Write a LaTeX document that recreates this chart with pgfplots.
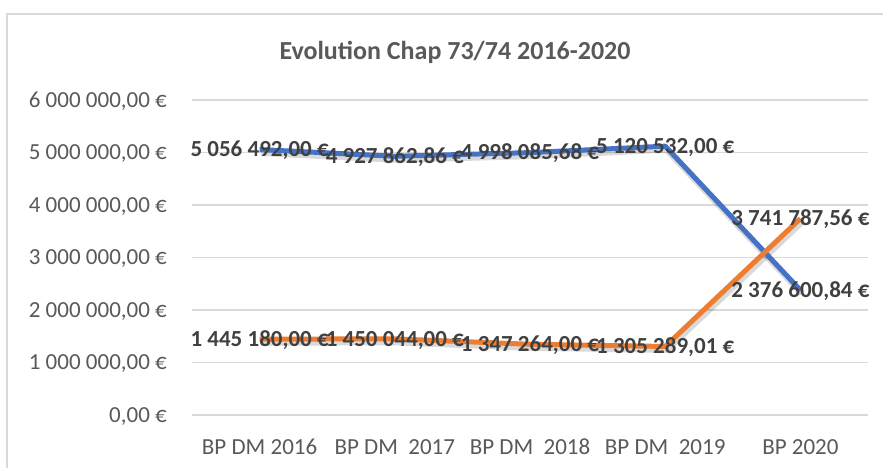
\documentclass[border=0pt]{standalone}
\usepackage{pgfplots}
\pgfplotsset{compat=1.18}
\usepackage{fontspec}
\setmainfont{Carlito}
\definecolor{cblue}{HTML}{4472C4}
\definecolor{corange}{HTML}{ED7D31}
\definecolor{cgrid}{HTML}{D9D9D9}
\definecolor{ctext}{HTML}{595959}
\definecolor{clabel}{HTML}{404040}
\begin{document}
\begin{tikzpicture}[x=1pt,y=1pt]
\path[use as bounding box] (0,0) rectangle (883,468);
\draw[color=cgrid, line width=1.2pt] (7,-5) -- (7,454) -- (890,454);
\node[font=\fontsize{26}{30}\selectfont\bfseries, text=ctext, anchor=base, inner sep=0pt] at (455,408) {Evolution Chap 73/74 2016-2020};
\begin{axis}[
  at={(192pt,53pt)}, anchor=south west,
  scale only axis, width=676pt, height=315pt,
  xmin=-0.5, xmax=4.5, ymin=0, ymax=6000000,
  clip=false,
  axis line style={draw=none},
  tick style={draw=none},
  major tick length=0pt,
  ymajorgrids, grid style={cgrid, line width=1.2pt},
  scaled y ticks=false,
  ytick={0,1000000,2000000,3000000,4000000,5000000,6000000},
  yticklabels={{0,00 €},{1 000 000,00 €},{2 000 000,00 €},{3 000 000,00 €},{4 000 000,00 €},{5 000 000,00 €},{6 000 000,00 €}},
  xtick={0,1,2,3,4},
  xticklabels={{BP DM 2016},{BP DM\ \ 2017},{BP DM\ \ 2018},{BP DM\ \ 2019},{BP 2020}},
  yticklabel style={anchor=base east, inner sep=0pt, xshift=-25pt, yshift=-7.3pt, font=\fontsize{23}{27}\selectfont, text=ctext},
  xticklabel style={anchor=base, inner sep=0pt, yshift=-40pt, font=\fontsize{23}{27}\selectfont, text=ctext},
]
% shadows
\addplot[black, opacity=0.15, line width=7pt, line join=round, xshift=1.5pt, yshift=-3pt] coordinates {(0,5056492) (1,4927862.86) (2,4998085.68) (3,5120532) (4,2376600.84)};
\addplot[black, opacity=0.15, line width=7pt, line join=round, xshift=1.5pt, yshift=-3pt] coordinates {(0,1445180) (1,1450044) (2,1347264) (3,1305289.01) (4,3741787.56)};
% lines
\addplot[cblue, line width=5pt, line join=round] coordinates {(0,5056492) (1,4927862.86) (2,4998085.68) (3,5120532) (4,2376600.84)};
\addplot[corange, line width=5pt, line join=round] coordinates {(0,1445180) (1,1450044) (2,1347264) (3,1305289.01) (4,3741787.56)};
% labels
\addplot[draw=none, point meta=explicit symbolic, nodes near coords,
  nodes near coords style={anchor=base, yshift=-7.3pt, inner sep=0pt, font=\fontsize{23}{27}\selectfont\bfseries, text=clabel}]
  coordinates {(0,5056492) [5 056 492,00 €] (1,4927862.86) [4 927 862,86 €] (2,4998085.68) [4 998 085,68 €] (3,5120532) [5 120 532,00 €] (4,2376600.84) [2 376 600,84 €]};
\addplot[draw=none, point meta=explicit symbolic, nodes near coords,
  nodes near coords style={anchor=base, yshift=-7.3pt, inner sep=0pt, font=\fontsize{23}{27}\selectfont\bfseries, text=clabel}]
  coordinates {(0,1445180) [1 445 180,00 €] (1,1450044) [1 450 044,00 €] (2,1347264) [1 347 264,00 €] (3,1305289.01) [1 305 289,01 €] (4,3741787.56) [3 741 787,56 €]};
\end{axis}
\end{tikzpicture}
\end{document}
